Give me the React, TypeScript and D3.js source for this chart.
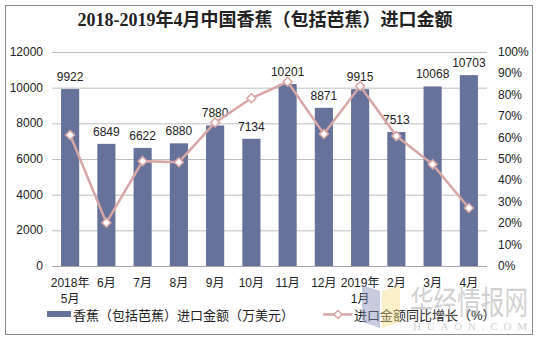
import React from "react";
import * as d3 from "d3";

const categories = ["2018年\n5月", "6月", "7月", "8月", "9月", "10月", "11月", "12月", "2019年\n1月", "2月", "3月", "4月"];
const amounts = [9922, 6849, 6622, 6880, 7880, 7134, 10201, 8871, 9915, 7513, 10068, 10703];
const growth = [61.2, 20.2, 49.0, 48.5, 67.1, 78.4, 86.1, 61.7, 84.1, 60.7, 47.5, 27.1];
const leftTicks = [0, 2000, 4000, 6000, 8000, 10000, 12000];
const rightTicks = [0, 10, 20, 30, 40, 50, 60, 70, 80, 90, 100];
const title = "2018-2019年4月中国香蕉（包括芭蕉）进口金额";
const legendBar = "香蕉（包括芭蕉）进口金额（万美元）";
const legendLine = "进口金额同比增长（%）";

const W = 539, H = 340;
const plot = { left: 52, right: 487, top: 52, bottom: 266 };
const barColor = "#67729a";
const lineColor = "#d6a7a6";
const font = "'Liberation Sans', Arial, 'Noto Sans CJK SC', sans-serif";

export default function App() {
  const x = d3.scaleBand<string>().domain(categories).range([plot.left, plot.right]).paddingInner(0.5).paddingOuter(0.25);
  const yL = d3.scaleLinear().domain([0, 12000]).range([plot.bottom, plot.top]);
  const yR = d3.scaleLinear().domain([0, 100]).range([plot.bottom, plot.top]);
  const cx = (c: string) => (x(c) as number) + x.bandwidth() / 2;
  const line = d3.line<number>().x((_, i) => cx(categories[i])).y((d) => yR(d));
  const diamond = (px: number, py: number, r = 4.5) => `M${px},${py - r}L${px + r},${py}L${px},${py + r}L${px - r},${py}Z`;

  return (
    <svg width={W} height={H} style={{ position: "absolute", left: 0, top: 0, background: "#fff" }} fontFamily={font}>
      <rect x={5.5} y={5.5} width={527} height={329} fill="#fff" stroke="#8c8c8c" strokeWidth={1} />
      <text x={265} y={26} textAnchor="middle" fontSize={18} fontWeight="bold" fontFamily="'Liberation Serif', 'Noto Sans CJK SC', serif" fill="#222">{title}</text>

      {leftTicks.map((t) => (
        <line key={"g" + t} x1={plot.left} x2={plot.right} y1={yL(t) + 0.5} y2={yL(t) + 0.5} stroke={t === 0 ? "#a6a6a6" : "#bfbfbf"} strokeWidth={1} />
      ))}
      {leftTicks.map((t) => (
        <text key={"l" + t} x={43} y={yL(t) + 4} textAnchor="end" fontSize={12} fill="#222">{t}</text>
      ))}
      {rightTicks.map((t) => (
        <text key={"r" + t} x={498} y={yR(t) + 4} textAnchor="start" fontSize={12} fill="#222">{t + "%"}</text>
      ))}

      {amounts.map((v, i) => (
        <rect key={"b" + i} x={x(categories[i])} y={yL(v)} width={x.bandwidth()} height={yL(0) - yL(v)} fill={barColor} />
      ))}
      {amounts.map((v, i) => (
        <text key={"v" + i} x={cx(categories[i])} y={yL(v) - 8} textAnchor="middle" fontSize={12} fill="#222">{v}</text>
      ))}

      <path d={line(growth) as string} fill="none" stroke={lineColor} strokeWidth={2.5} />
      {growth.map((g, i) => (
        <path key={"m" + i} d={diamond(cx(categories[i]), yR(g))} fill="#fff" stroke={lineColor} strokeWidth={1.5} />
      ))}

      {categories.map((c) => (
        <text key={"x" + c} x={cx(c)} y={287} textAnchor="middle" fontSize={12} fill="#222">
          {c.split("\n").map((s, j) => (
            <tspan key={j} x={cx(c)} dy={j === 0 ? 0 : 16}>{s}</tspan>
          ))}
        </text>
      ))}

      <rect x={47} y={311} width={24} height={6} fill={barColor} />
      <text x={73} y={319.5} fontSize={13} fill="#222">{legendBar}</text>
      <line x1={323} x2={352} y1={314.5} y2={314.5} stroke={lineColor} strokeWidth={2.5} />
      <path d={diamond(338, 314.5, 4)} fill="#fff" stroke={lineColor} strokeWidth={1.5} />
      <text x={354} y={319.5} fontSize={13} fill="#222">{legendLine}</text>

      {/* watermark */}
      <g opacity={0.45}>
        <polygon points="362,285 380,291 380,328 362,322" fill="#8890b8" />
        <polygon points="382,291 400,285 400,322 382,328" fill="#f3e08a" />
        <text x={410} y={314} fontSize={32} textLength={118} lengthAdjust="spacingAndGlyphs" fill="#9a9a9a" fontFamily="'Noto Sans CJK SC', sans-serif">华经情报网</text>
        <text x={413} y={330} fontSize={11} textLength={114} lengthAdjust="spacing" fill="#9a9a9a" fontFamily="'Liberation Serif', serif">HUAON.COM</text>
      </g>
    </svg>
  );
}
